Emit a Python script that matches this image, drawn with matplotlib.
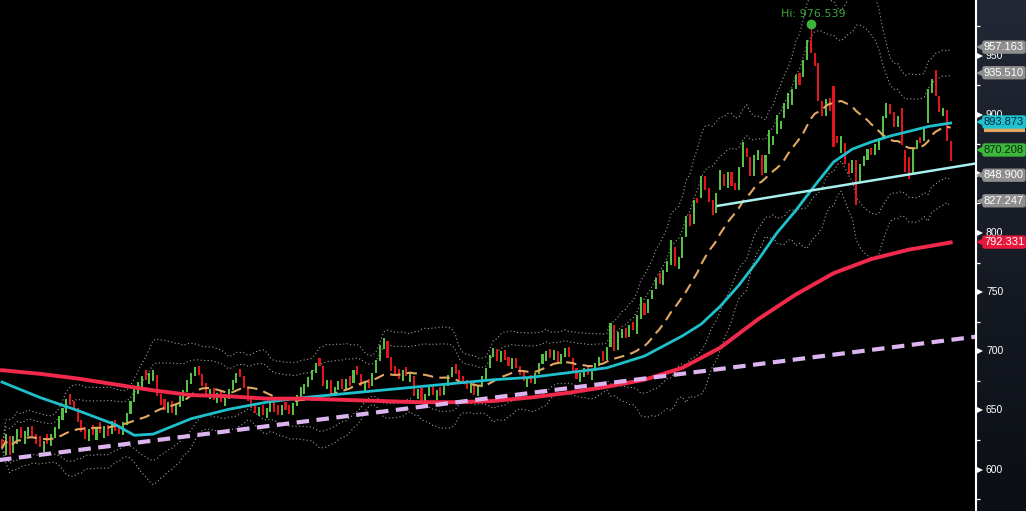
import numpy as np
import pandas as pd
import matplotlib
matplotlib.use("Agg")
import matplotlib.pyplot as plt
from matplotlib.colors import LinearSegmentedColormap

# closing prices, one per bar
closes = [
    618, 630, 612, 628, 634, 627, 633, 636, 628, 622,
    619, 624, 622, 630, 636, 645, 652, 660, 655, 650,
    640, 632, 626, 634, 629, 636, 631, 637, 628, 641,
    633, 630, 640, 648, 658, 668, 674, 679, 676, 682,
    684, 662, 655, 650, 657, 648, 655, 662, 667, 676,
    682, 687, 680, 671, 664, 668, 659, 665, 657, 662,
    668, 676, 682, 678, 669, 658, 652, 648, 653, 646,
    652, 657, 649, 646, 655, 650, 647, 656, 663, 670,
    672, 678, 684, 690, 688, 671, 676, 664, 670, 675,
    668, 677, 671, 684, 680, 671, 675, 669, 682, 693,
    705, 711, 694, 683, 680, 677, 684, 679, 682, 662,
    668, 658, 664, 670, 663, 667, 662, 672, 680, 687,
    681, 676, 672, 668, 674, 663, 671, 679, 686, 697,
    703, 692, 700, 693, 688, 694, 686, 680, 675, 678,
    673, 682, 690, 698, 700, 694, 701, 690, 698, 703,
    695, 683, 677, 682, 686, 680, 684, 690, 695, 692,
    704, 724, 700, 716, 719, 711, 722, 718, 731, 746,
    731, 744, 752, 762, 757, 769, 776, 794, 772, 780,
    797, 814, 806, 828, 825, 848, 836, 826, 815, 834,
    853, 840, 852, 840, 836, 856, 877, 864, 848, 866,
    870, 849, 866, 887, 882, 900, 895, 910, 918, 922,
    934, 925, 946, 963, 952, 941, 912, 899, 913, 903,
    873, 876, 882, 858, 850, 862, 824, 858, 865, 871,
    866, 875, 880, 899, 910, 901, 890, 899, 874, 852,
    846, 872, 879, 876, 889, 922, 930, 916, 902, 906, 878, 861,
]
opens = [
    626, 612, 628, 614, 622, 636, 622, 628, 637, 630,
    628, 615, 630, 620, 627, 634, 642, 648, 664, 658,
    652, 642, 636, 624, 638, 625, 640, 627, 638, 630,
    642, 638, 629, 638, 647, 657, 664, 670, 684, 672,
    675, 680, 664, 660, 648, 658, 646, 653, 658, 666,
    672, 679, 688, 681, 673, 660, 669, 656, 666, 654,
    660, 667, 673, 685, 679, 670, 661, 656, 645, 655,
    644, 649, 658, 655, 646, 657, 655, 646, 654, 661,
    664, 670, 676, 682, 694, 688, 668, 676, 662, 667,
    677, 667, 679, 673, 688, 681, 666, 677, 671, 682,
    692, 702, 709, 695, 688, 685, 675, 687, 674, 679,
    660, 669, 656, 662, 671, 659, 670, 663, 671, 678,
    689, 684, 679, 676, 665, 673, 662, 670, 677, 686,
    695, 702, 691, 701, 695, 685, 694, 688, 683, 670,
    680, 672, 681, 689, 692, 702, 693, 700, 689, 695,
    704, 694, 686, 674, 678, 688, 676, 683, 688, 700,
    693, 704, 722, 701, 711, 720, 712, 725, 715, 727,
    741, 732, 744, 753, 766, 756, 767, 773, 788, 770,
    779, 797, 816, 808, 830, 830, 848, 838, 828, 817,
    836, 850, 838, 852, 842, 836, 856, 872, 864, 848,
    862, 866, 851, 867, 874, 884, 888, 897, 905, 908,
    922, 935, 932, 946, 963, 952, 944, 912, 899, 914,
    924, 882, 868, 876, 859, 851, 862, 842, 857, 862,
    872, 866, 870, 880, 897, 909, 902, 890, 906, 870,
    864, 850, 871, 881, 878, 893, 918, 938, 916, 899, 904, 878,
]
peak_bar = 214
peak_high = 976.539

# slow moving averages sampled along the chart
cyan_idx = [0, 10, 20, 30, 35, 40, 50, 60, 70, 80, 90, 100, 110, 120, 130, 140, 150,
            160, 170, 180, 185, 190, 195, 200, 205, 210, 215, 220, 225, 230, 235,
            240, 245, 251]
cyan_val = [674, 661, 650, 638, 629, 630, 643, 651, 657, 661, 664, 667, 670, 673, 676,
            678, 682, 686, 696, 713, 723, 738, 756, 777, 800, 819, 840, 860, 871, 877,
            882, 886, 890, 893]
red_idx = [0, 10, 20, 30, 40, 50, 60, 70, 80, 90, 100, 110, 120, 130, 140, 150, 160,
           170, 180, 190, 200, 210, 220, 230, 240, 251]
red_val = [684, 681, 677, 672, 667, 663, 662, 660, 660, 659, 658, 657, 657, 658, 661,
           665, 670, 676, 686, 703, 727, 748, 766, 778, 786, 792]

# trend lines (bar index, price)
lav_x, lav_y = [-1, 258], [608, 712.5]
aqua_x, aqua_y = [189.4, 258], [823, 859]

# price tags on the right axis
tag_prices = [957.163, 935.510, 893.873, 870.208, 848.900, 827.247, 792.331]
tag_labels = ["957.163", "935.510", "893.873", "870.208", "848.900", "827.247", "792.331"]
tag_fill = ["#8e8e8e", "#8e8e8e", "#1fc3d2", "#3db83d", "#8e8e8e", "#8e8e8e", "#e8193c"]
tag_text = ["white", "white", "#0b2440", "#0b250b", "white", "white", "white"]
mid_tag_price = 887.0  # orange tag, hidden behind the cyan one

y_ticks = [600, 650, 700, 750, 800, 850, 900, 950]
y_tick_shown = [True, True, True, True, True, False, True, True]
y_minor = [575, 625, 675, 725, 775, 825, 875, 925, 975]

GREEN = "#55c145"
RED = "#e3141e"
ORANGE = "#e2a862"

closes = np.array(closes, dtype=float)
opens = np.array(opens, dtype=float)
idx = np.arange(len(closes))
s = pd.Series(closes)
mid = s.rolling(20, min_periods=1).mean()
sd = s.rolling(20, min_periods=1).std(ddof=0).fillna(0)

fig = plt.figure(figsize=(10.26, 5.11), dpi=100, facecolor="black")
ax = fig.add_axes([0, 0, 976 / 1026, 1])
ax.set_facecolor("black")
ax.set_xlim(-0.53, 257.7)
ax.set_ylim(565, 997)
ax.axis("off")

# bollinger bands
for k in (2, 3):
    for sign in (1, -1):
        ax.plot(idx, mid + sign * k * sd, color="#a0a0a0", lw=0.8,
                linestyle=(0, (1, 2.2)), zorder=1)

# candles
up = closes >= opens
body = closes - opens
ax.bar(idx, body, bottom=opens, width=0.55,
       color=np.where(up, GREEN, RED), linewidth=0, zorder=2)
ax.vlines(peak_bar, max(opens[peak_bar], closes[peak_bar]), peak_high,
          color=RED, lw=0.8, zorder=2)

ax.plot(idx, mid, color=ORANGE, lw=1.5, dashes=(5, 3), zorder=3)
ax.plot(cyan_idx, cyan_val, color="#1fc0cc", lw=2.0, zorder=4)
ax.plot(red_idx, red_val, color="#f2294a", lw=2.8, zorder=4)
ax.plot(lav_x, lav_y, color="#dcb4f0", lw=3, dashes=(3, 1.8), zorder=5)
ax.plot(aqua_x, aqua_y, color="#a8f0f0", lw=1.8, zorder=5)

ax.plot(peak_bar, peak_high, "o", color="#3cb43c", ms=6, zorder=6)
ax.annotate(f"Hi: {peak_high:.3f}", (peak_bar, peak_high), xytext=(2, 4),
            textcoords="offset points", ha="center", va="bottom",
            color="#3aa83a", fontsize=8, zorder=6)

# right price axis
pan = fig.add_axes([976 / 1026, 0, 50 / 1026, 1])
cmap = LinearSegmentedColormap.from_list("pan", ["#0b0e14", "#222835"])
grad = np.linspace(0, 1, 256).reshape(-1, 1)
pan.imshow(grad, extent=(0, 1, 565, 997), aspect="auto", cmap=cmap,
           origin="lower", zorder=0)
pan.set_xlim(0, 1)
pan.set_ylim(565, 997)
pan.set_xticks([])
pan.set_yticks([])
for sp in ("top", "right", "bottom"):
    pan.spines[sp].set_visible(False)
pan.spines["left"].set_color("white")
pan.spines["left"].set_linewidth(1.5)

pan.plot([0.07] * len(y_ticks), y_ticks, ">", color="white", ms=4.5,
         markeredgewidth=0, zorder=2)
pan.hlines(y_minor, 0, 0.08, color="white", lw=0.9, zorder=2)
for t, shown in zip(y_ticks, y_tick_shown):
    if shown:
        pan.text(0.2, t, str(t), color="white", fontsize=7.5, va="center",
                 ha="left", family="Liberation Sans", zorder=2)

pan.hlines(mid_tag_price, 0.16, 0.97, color=ORANGE, lw=3, zorder=3)

for p, lab, fc, tc in zip(tag_prices, tag_labels, tag_fill, tag_text):
    pan.plot(0.1, p, "<", color=fc, ms=7, markeredgewidth=0, zorder=4)
    pan.text(0.16, p, lab, color=tc, fontsize=8, va="center", ha="left",
             family="Liberation Sans", zorder=5,
             bbox=dict(boxstyle="round,pad=0.15,rounding_size=0.2", fc=fc, ec="none"))

fig.savefig("out.png", dpi=100, facecolor="black")
